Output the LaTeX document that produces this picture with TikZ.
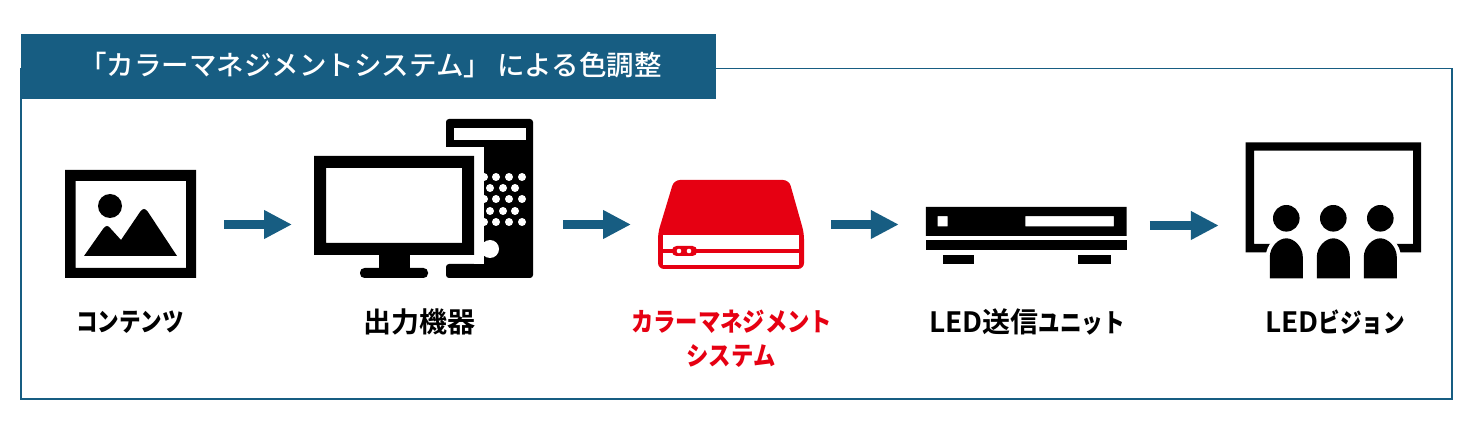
\documentclass[tikz,border=0pt]{standalone}
\usepackage{fontspec}
\setmainfont{Noto Sans CJK JP}[BoldFont={Noto Sans CJK JP Bold}]
\newfontfamily\kanafont{Noto Sans CJK JP Bold}[FakeStretch=0.86]
\newfontfamily\kanatight{Noto Sans CJK JP Bold}[FakeStretch=0.83]
\newfontfamily\titlefont{Noto Sans CJK JP Medium}
\newcommand{\kn}[1]{{\kanafont\fontsize{26pt}{30pt}\selectfont #1}}
\newcommand{\kt}[1]{{\kanatight\fontsize{26pt}{30pt}\selectfont #1}}
\usetikzlibrary{arrows.meta}
\definecolor{navy}{HTML}{175D82}
\definecolor{brand}{HTML}{E60012}
\tikzset{
  icon/.style={inner sep=0pt,outer sep=0pt,minimum height=20pt},
  flow/.style={draw=navy,line width=9pt,-{Triangle[length=28pt,width=27pt,fill=navy]}},
  label/.style={inner sep=0pt,font=\bfseries\fontsize{28pt}{32pt}\selectfont,text=black},
  ink/.style={fill=black},
  gap/.style={fill=white},
}
\begin{document}
\begin{tikzpicture}[x=1pt,y=-1pt]
\useasboundingbox[fill=white] (0,0) rectangle (1472,435);
% frame and header
\draw[navy,line width=1.8pt] (21,68.5) rectangle (1452,399);
\fill[navy] (21,34) rectangle (716,99);
\node[inner sep=0pt,text=white,font=\titlefont\fontsize{27.5pt}{30pt}\selectfont,anchor=center] (title) at (370.5,65) {「カラーマネジメントシステム」 による色調整};
% anchor nodes for the icons
\node[icon,minimum width=131pt] (photo) at (130.5,224.5) {};
\node[icon,minimum width=219pt] (pc) at (423.5,224.5) {};
\node[icon,minimum width=146pt] (cms) at (731,224.5) {};
\node[icon,minimum width=201pt] (sender) at (1026.3,225.5) {};
\node[icon,minimum width=175pt] (vision) at (1333.3,225.5) {};
% photo icon
\fill[ink,even odd rule] (65,170) rectangle (196,278) (75.5,181) rectangle (186,268);
\fill[ink] (110,206) circle (12);
\fill[ink] (84,256) -- (103,229) .. controls (106,225) and (108,225) .. (111,229) -- (121,240) -- (140,212) .. controls (143,208) and (145,208) .. (148,212) -- (177,256) -- cycle;
% computer icon
\fill[ink,rounded corners=3pt] (446,147) -- (446,119) -- (533,119) -- (533,278) -- (446,278) -- (446,264) -- (484,264) [sharp corners] -- (484,147) -- cycle;
\fill[gap] (454,128) rectangle (526,140);
\foreach \y in {177,199,222}{\foreach \x in {484,496,509,522}{\fill[gap] (\x,\y) circle (4);}}
\foreach \y in {188,211}{\foreach \x in {490,503,515}{\fill[gap] (\x,\y) circle (4);}}
\fill[gap] (490,249) circle (9);
\fill[gap] (474,147) rectangle (484,264);
\fill[ink,even odd rule] (314,156) rectangle (474,255) (326,168) rectangle (462,243);
\fill[ink] (379,255) rectangle (410,270);
\fill[ink,rounded corners=4.5pt] (360,268) rectangle (428,278);
% colour management device
\fill[brand,rounded corners=6pt] (674,180) -- (789,180) -- (804,233) -- (804,269) -- (658,269) -- (658,233) -- cycle;
\fill[gap] (663,235) rectangle (799,249);
\fill[gap] (663,253) rectangle (799,265);
\fill[brand,rounded corners=4.5pt] (672,246) rectangle (697,256);
\fill[gap] (679,251) circle (2.3);
\fill[gap] (689,251) circle (2.3);
% sender unit
\fill[ink,even odd rule] (925.9,207) rectangle (1126.7,235.8) (937.7,216.2) rectangle (947.5,226.3) (1025.3,216.2) rectangle (1113.9,226.3);
\fill[ink] (925.9,239.9) rectangle (1126.7,249.7);
\fill[ink] (942.5,254.7) rectangle (974.2,263.9);
\fill[ink] (1078.4,254.7) rectangle (1110.5,263.9);
% vision icon
\fill[ink,even odd rule] (1245.7,142.3) rectangle (1421,252.3) (1254,150.7) rectangle (1413,244);
\fill[gap] (1275,243) rectangle (1392,253.5);
\foreach \x in {1286.3,1333.3,1380.3}{
  \path[draw=white,line width=8pt] (\x-16.5,278.3) -- (\x-16.5,257) .. controls (\x-16.5,247) and (\x-8,238.3) .. (\x,238.3) .. controls (\x+8,238.3) and (\x+16.5,247) .. (\x+16.5,257) -- (\x+16.5,278.3) -- cycle;
}
\foreach \x in {1286.3,1333.3,1380.3}{
  \fill[ink] (\x,218.3) circle (13.3);
  \fill[ink] (\x-16.5,278.3) -- (\x-16.5,257) .. controls (\x-16.5,247) and (\x-8,238.3) .. (\x,238.3) .. controls (\x+8,238.3) and (\x+16.5,247) .. (\x+16.5,257) -- (\x+16.5,278.3) -- cycle;
}
% arrows
\draw[flow,shorten <=28pt,shorten >=22pt] (photo.east) -- (pc.west);
\draw[flow,shorten <=30pt,shorten >=27pt] (pc.east) -- (cms.west);
\draw[flow,shorten <=27pt,shorten >=27pt] (cms.east) -- (cms.east -| sender.west);
\draw[flow,shorten <=23pt,shorten >=27pt] (sender.east) -- (vision.west);
% labels
\node[label] (l1) at (130,322) {\kt{コンテンツ}};
\node[label] (l2) at (419.5,322) {出力機器};
\node[label,text=brand] (l3) at (731.7,322) {\kn{カラーマネジメント}};
\node[label,text=brand] (l3b) at (731,356) {\kn{システム}};
\node[label] (l4) at (1027,322) {LED送信\kt{ユニット}};
\node[label] (l5) at (1335,322) {LED\kt{ビジョン}};
\end{tikzpicture}
\end{document}
